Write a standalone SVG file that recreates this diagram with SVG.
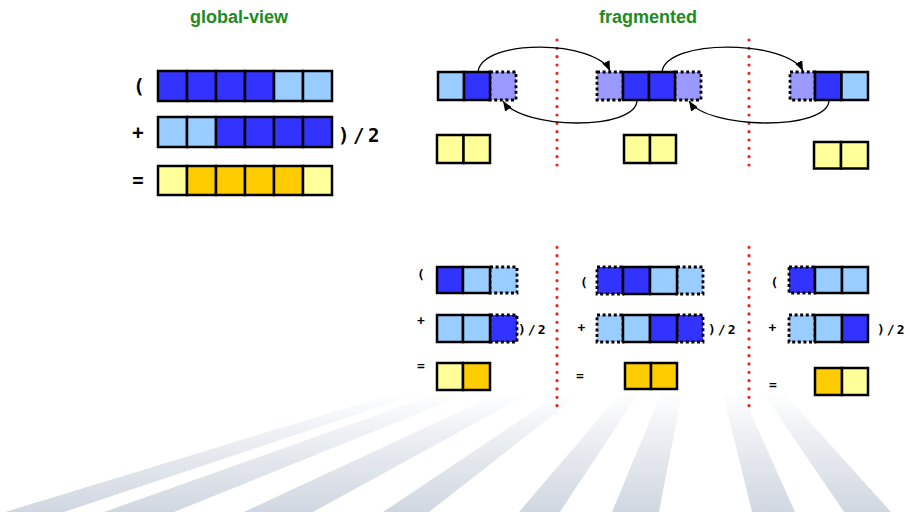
<svg xmlns="http://www.w3.org/2000/svg" width="910" height="512" viewBox="0 0 910 512">
<style>
.c{stroke:#000;stroke-width:2.5}
.d{stroke:#000;stroke-width:2.8;stroke-dasharray:3 2.6}
.b{fill:#3333ff}.lb{fill:#99ccff}.lv{fill:#9999ff}.y{fill:#ffff99}.o{fill:#ffcc00}
.lbl{font-family:"DejaVu Sans Mono","Liberation Mono",monospace;font-weight:bold;fill:#000}
.big{font-size:19px}.sm{font-size:13px}
.mid{text-anchor:middle}
.title{font-family:"Liberation Sans",Arial,sans-serif;font-weight:bold;font-size:18px;fill:#1e8c1e;text-anchor:middle}
.sep{fill:none;stroke:#e8251b;stroke-width:3.2;stroke-linecap:round;stroke-dasharray:0 8.333}
.arr{fill:none;stroke:#000;stroke-width:1.3;marker-end:url(#ah)}
.ray{fill:url(#rayg)}
</style>
<defs>
<linearGradient id="rayg" gradientUnits="userSpaceOnUse" x1="0" y1="392" x2="0" y2="512">
<stop offset="0" stop-color="#ccd3de" stop-opacity="0"/>
<stop offset="0.35" stop-color="#ccd3de" stop-opacity="0.35"/>
<stop offset="1" stop-color="#ccd3de" stop-opacity="0.9"/>
</linearGradient>
<marker id="ah" markerUnits="userSpaceOnUse" viewBox="0 0 10 8" markerWidth="10" markerHeight="8" refX="10" refY="4" orient="auto">
<path d="M0,0 L10,4 L0,8 z" fill="#000"/>
</marker>
</defs>
<rect width="910" height="512" fill="#fff"/>
<g id="background-rays">
<polygon class="ray" points="5,512 64,512 700,300"/>
<polygon class="ray" points="104,512 174,512 700,300"/>
<polygon class="ray" points="244,512 313,512 700,300"/>
<polygon class="ray" points="383,512 429,512 700,300"/>
<polygon class="ray" points="519,512 560,512 700,300"/>
<polygon class="ray" points="612,512 659,512 700,300"/>
<polygon class="ray" points="752,512 795,512 700,300"/>
<polygon class="ray" points="844,512 891,512 700,300"/>
</g>
<g id="titles">
<text class="title" x="239" y="23">global-view</text>
<text class="title" x="648" y="23">fragmented</text>
</g>
<g id="separators">
<line class="sep" x1="557" y1="40" x2="557" y2="173.3"/>
<line class="sep" x1="749" y1="40" x2="749" y2="173.3"/>
<line class="sep" x1="557" y1="247.3" x2="557" y2="413.3"/>
<line class="sep" x1="749" y1="247.3" x2="749" y2="413.3"/>
</g>
<g id="global-view">
<g id="gv-a">
<text class="lbl big mid" x="139" y="93">(</text>
<rect class="c b" x="158" y="71" width="29" height="30"/><rect class="c b" x="187" y="71" width="29" height="30"/><rect class="c b" x="216" y="71" width="29" height="30"/><rect class="c b" x="245" y="71" width="29" height="30"/><rect class="c lb" x="274" y="71" width="29" height="30"/><rect class="c lb" x="303" y="71" width="29" height="30"/>
</g>
<g id="gv-b">
<text class="lbl big mid" x="138" y="138.5">+</text>
<rect class="c lb" x="158" y="117" width="29" height="30"/><rect class="c lb" x="187" y="117" width="29" height="30"/><rect class="c b" x="216" y="117" width="29" height="30"/><rect class="c b" x="245" y="117" width="29" height="30"/><rect class="c b" x="274" y="117" width="29" height="30"/><rect class="c b" x="303" y="117" width="29" height="30"/>
<text class="lbl big" x="338" y="141.5" letter-spacing="3.5">)/2</text>
</g>
<g id="gv-sum">
<text class="lbl big mid" x="138" y="186.5">=</text>
<rect class="c y" x="158" y="166" width="29" height="29"/><rect class="c o" x="187" y="166" width="29" height="29"/><rect class="c o" x="216" y="166" width="29" height="29"/><rect class="c o" x="245" y="166" width="29" height="29"/><rect class="c o" x="274" y="166" width="29" height="29"/><rect class="c y" x="303" y="166" width="29" height="29"/>
</g>
</g>
<g id="frag-p0">
<rect class="d lv" x="490" y="72" width="26" height="28"/>
<rect class="c lb" x="438" y="72" width="26" height="28"/><rect class="c b" x="464" y="72" width="26" height="28"/>
</g>
<g id="frag-p1">
<rect class="d lv" x="597" y="72" width="26" height="28"/><rect class="d lv" x="675" y="72" width="26" height="28"/>
<rect class="c b" x="623" y="72" width="26" height="28"/><rect class="c b" x="649" y="72" width="26" height="28"/>
</g>
<g id="frag-p2">
<rect class="d lv" x="790" y="72" width="25" height="28"/>
<rect class="c b" x="815" y="72" width="26.5" height="28"/><rect class="c lb" x="841.5" y="72" width="26.5" height="28"/>
</g>
<g id="frag-r0">
<rect class="c y" x="437" y="135" width="26.5" height="28"/><rect class="c y" x="463.5" y="135" width="26.5" height="28"/>
</g>
<g id="frag-r1">
<rect class="c y" x="624" y="135" width="26" height="28"/><rect class="c y" x="650" y="135" width="26" height="28"/>
</g>
<g id="frag-r2">
<rect class="c y" x="814" y="142" width="27" height="26.5"/><rect class="c y" x="841" y="142" width="27" height="26.5"/>
</g>
<g id="connectors">
<path class="arr" d="M478,72 C482,38 596,40 610,71"/>
<path class="arr" d="M637,100 C637,131 522,130 503,101"/>
<path class="arr" d="M662,72 C666,38 788,40 803,71"/>
<path class="arr" d="M829,100 C829,131 708,130 689,101"/>
</g>
<g id="local-0">
<text class="lbl sm mid" x="421" y="279">(</text>
<rect class="d lb" x="490" y="267" width="27" height="26"/>
<rect class="c b" x="437" y="267" width="26" height="26"/><rect class="c lb" x="463" y="267" width="27" height="26"/>
<text class="lbl sm mid" x="421" y="325">+</text>
<rect class="d b" x="490" y="315" width="27" height="27"/>
<rect class="c lb" x="437" y="315" width="26" height="27"/><rect class="c lb" x="463" y="315" width="27" height="27"/>
<text class="lbl sm" x="518" y="334" letter-spacing="2">)/2</text>
<text class="lbl sm mid" x="421" y="369.5">=</text>
<rect class="c y" x="437" y="363" width="26" height="27"/><rect class="c o" x="463" y="363" width="27" height="27"/>
</g>
<g id="local-1">
<text class="lbl sm mid" x="584" y="287">(</text>
<rect class="d b" x="597" y="267" width="26" height="27"/><rect class="d lb" x="677" y="267" width="26" height="27"/>
<rect class="c b" x="623" y="267" width="27" height="27"/><rect class="c lb" x="650" y="267" width="27" height="27"/>
<text class="lbl sm mid" x="581.5" y="332">+</text>
<rect class="d lb" x="597" y="315" width="26" height="27"/><rect class="d b" x="677" y="315" width="26" height="27"/>
<rect class="c lb" x="623" y="315" width="27" height="27"/><rect class="c b" x="650" y="315" width="27" height="27"/>
<text class="lbl sm" x="708" y="334" letter-spacing="2">)/2</text>
<text class="lbl sm mid" x="580" y="379.5">=</text>
<rect class="c o" x="625" y="363" width="26" height="26"/><rect class="c o" x="651" y="363" width="26" height="26"/>
</g>
<g id="local-2">
<text class="lbl sm mid" x="774.5" y="287">(</text>
<rect class="d b" x="789" y="267" width="26" height="26"/>
<rect class="c lb" x="815" y="267" width="27" height="26"/><rect class="c lb" x="842" y="267" width="26" height="26"/>
<text class="lbl sm mid" x="772.5" y="332">+</text>
<rect class="d lb" x="789" y="315" width="26" height="27"/>
<rect class="c lb" x="815" y="315" width="27" height="27"/><rect class="c b" x="842" y="315" width="26" height="27"/>
<text class="lbl sm" x="877" y="334" letter-spacing="2">)/2</text>
<text class="lbl sm mid" x="773" y="389">=</text>
<rect class="c o" x="815" y="368" width="27" height="27"/><rect class="c y" x="842" y="368" width="26" height="27"/>
</g>
</svg>
